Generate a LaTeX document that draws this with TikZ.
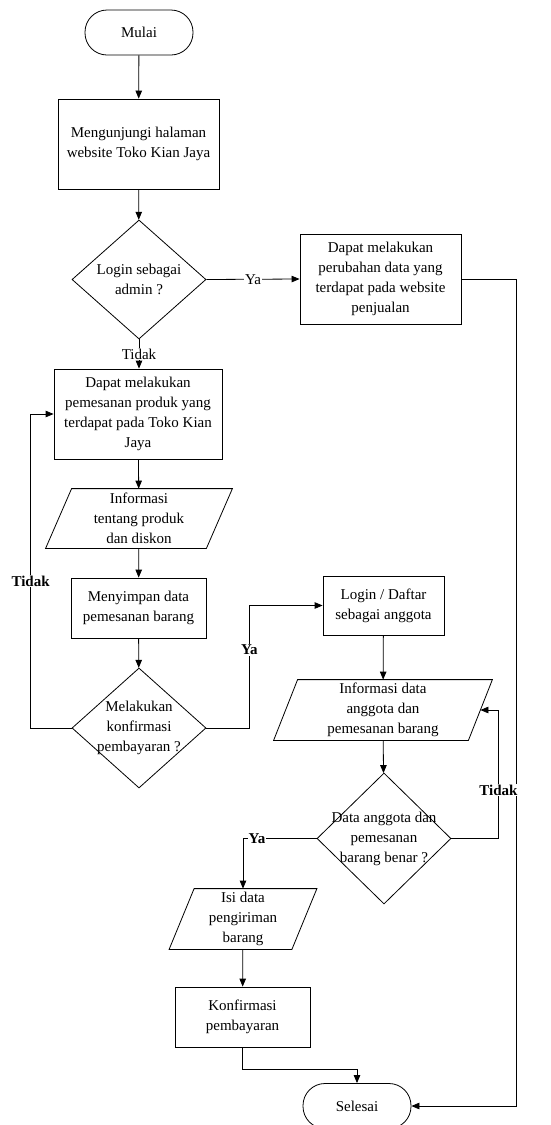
\documentclass[tikz,border=0pt]{standalone}
\usepackage{fontspec}
\setmainfont{Liberation Serif}
\usetikzlibrary{arrows.meta,shapes.geometric,calc}
\newcommand\drawparall[2]{\draw ($(#1.north west)+(#2,0)$) -- ($(#1.north east)+(#2,0)$) -- ($(#1.south east)+(-#2,0)$) -- ($(#1.south west)+(-#2,0)$) -- cycle;}
\begin{document}
\begin{tikzpicture}[x=1pt,y=-1pt,
  font=\fontsize{15}{20}\selectfont,
  line width=0.8pt,
  arr/.style={-{Triangle[length=8pt,width=6.5pt]}},
  term/.style={draw, rectangle, rounded corners=22pt, minimum width=108pt, minimum height=45pt, inner sep=0pt},
  proc/.style={draw, rectangle, inner sep=0pt, align=center},
  dec/.style={draw, diamond, inner sep=0pt},
  txt/.style={align=center, inner sep=0pt},
  io/.style={rectangle, inner sep=0pt, align=center},
  lbl/.style={fill=white, inner sep=1pt},
  blbl/.style={fill=white, inner sep=1pt, font=\fontsize{15}{20}\selectfont\bfseries},
]
\useasboundingbox (0,0) rectangle (551,1125);

\node[term] (start) at (139,32.5) {Mulai};
\node[proc, minimum width=161, minimum height=90] (b1) at (138.5,144) {Mengunjungi halaman\\website Toko Kian Jaya};
\node[dec, minimum width=134, minimum height=119] (d1) at (139,279.5) {};
\node[txt] (d1t) at (d1) {Login sebagai\\admin ?};
\node[proc, minimum width=161, minimum height=90] (b2r) at (380.5,279) {Dapat melakukan\\perubahan data yang\\terdapat pada website\\penjualan};
\node[proc, minimum width=168, minimum height=90] (b2) at (138,414) {Dapat melakukan\\pemesanan produk yang\\terdapat pada Toko Kian\\Jaya};
\node[io, minimum width=160, minimum height=59] (p1) at (139,518.5) {Informasi\\tentang produk\\dan diskon};
\drawparall{p1}{13}
\node[proc, minimum width=135, minimum height=60] (b3) at (138.5,608) {Menyimpan data\\pemesanan barang};
\node[dec, minimum width=134, minimum height=120] (d2) at (139,728) {};
\node[txt] (d2t) at (d2) {Melakukan\\konfirmasi\\pembayaran ?};
\node[proc, minimum width=121, minimum height=59] (b4) at (383.5,605.5) {Login / Daftar\\sebagai anggota};
\node[io, minimum width=194, minimum height=60] (p2) at (383,710) {Informasi data\\anggota dan\\pemesanan barang};
\drawparall{p2}{12}
\node[dec, minimum width=134, minimum height=131] (d3) at (384,838.5) {};
\node[txt] (d3t) at (d3) {Data anggota dan\\pemesanan\\barang benar ?};
\node[io, minimum width=122, minimum height=60] (p3) at (243,919) {Isi data\\pengiriman\\barang};
\drawparall{p3}{12.5}
\node[proc, minimum width=135, minimum height=60] (b5) at (242.5,1017) {Konfirmasi\\pembayaran};
\node[term] (end) at (357,1106) {Selesai};

\draw[arr] (start) -- (b1);
\draw[arr] (b1) -- (d1);
\draw[arr] (d1.east) -- node[lbl] (ya1) {Ya} (b2r.west);
\draw[arr] (d1.south) -- node[lbl] (tidak1) {Tidak} (d1.south |- b2.north);
\draw[arr] (b2r.east) -- ++(55,0) |- (end.east);
\draw[arr] (b2) -- (p1);
\draw[arr] (p1) -- (b3);
\draw[arr] (b3) -- (d2);
\draw[arr] (d2.west) -- ++(-41,0) |- node[blbl, pos=0.234] (tidak2) {Tidak} (b2.west);
\draw[arr] (d2.east) -- ++(43,0) |- node[blbl, pos=0.318] (ya2) {Ya} (b4.west);
\draw[arr] (b4) -- (p2);
\draw[arr] (p2) -- (d3);
\draw[arr] (d3.east) -- ++(47,0) |- node[blbl, pos=0.189] (tidak3) {Tidak} (p2.east);
\draw[arr] (d3.west) -| node[blbl, pos=0.405] (ya3) {Ya} (p3.north);
\draw[arr] (p3) -- (b5);
\draw[arr] (b5.south) -- ++(0,22) -| (end.north);
\end{tikzpicture}
\end{document}
